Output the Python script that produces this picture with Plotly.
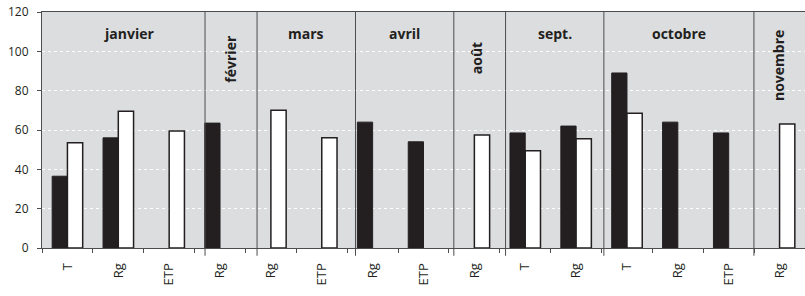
import plotly.graph_objects as go

# ---- data ----
months = ["janvier", "février", "mars", "avril", "août", "sept.", "octobre", "novembre"]
month_vars = [["T", "Rg", "ETP"], ["Rg"], ["Rg", "ETP"], ["Rg", "ETP"], ["Rg"],
              ["T", "Rg"], ["T", "Rg", "ETP"], ["Rg"]]
tick_labels = [v for vs in month_vars for v in vs]
black_vals = [36.5, 56, None, 63.5, None, None, 64, 54, None, 58.5, 62, 89, 64, 58.5, None]
white_vals = [53.5, 69.5, 59.5, None, 70, 56, None, None, 57.5, 49.5, 55.5, 68.5, None, None, 63]
y_ticks = [0, 20, 40, 60, 80, 100, 120]

# ---- style ----
BLACK = "#231f20"
BG = "#dcdddf"
LINE = "#4d4d4d"
TXT = "#231f20"
FONT = "Open Sans"

n = len(tick_labels)
xs = list(range(n))

fig = go.Figure()
fig.add_trace(go.Bar(x=xs, y=black_vals, marker=dict(color=BLACK, line=dict(color=BLACK, width=1)),
                     showlegend=False, hoverinfo="skip"))
fig.add_trace(go.Bar(x=xs, y=white_vals, marker=dict(color="white", line=dict(color=BLACK, width=1.5)),
                     showlegend=False, hoverinfo="skip"))

# month separators (hand-placed in the original, slightly offset from category boundaries)
sep_offsets = [0.205, 0.228, 0.163, 0.096, 0.113, 0.046, -0.004]
bounds = []
acc = 0
for vs in month_vars[:-1]:
    acc += len(vs)
    bounds.append(acc - 0.5)
seps = [b + o for b, o in zip(bounds, sep_offsets)]
for s in seps:
    fig.add_shape(type="line", xref="x", yref="paper", x0=s, x1=s, y0=-0.033, y1=1,
                  line=dict(color=LINE, width=1))

# month labels
edges = [-0.3] + seps + [n - 0.5]
vertical = {"février": 96.3, "août": 96.3, "novembre": 93.0}
vert_shift = {"février": 0, "août": -0.06, "novembre": -0.03}
for i, m in enumerate(months):
    cx = (edges[i] + edges[i + 1]) / 2
    if m in vertical:
        fig.add_annotation(x=cx + vert_shift[m], y=vertical[m], text="<b>%s</b>" % m, showarrow=False,
                           textangle=-90, font=dict(family=FONT, size=14, color=TXT),
                           xanchor="center", yanchor="middle")
    else:
        fig.add_annotation(x=cx, y=109.2, text="<b>%s</b>" % m, showarrow=False,
                           font=dict(family=FONT, size=14, color=TXT),
                           xanchor="center", yanchor="middle")

fig.update_layout(
    width=805, height=296,
    margin=dict(l=42, r=0, t=12, b=48, autoexpand=False),
    plot_bgcolor=BG, paper_bgcolor="white",
    barmode="group", bargap=0.4, bargroupgap=0,
    font=dict(family=FONT, size=12, color=TXT),
    hovermode=False,
)
fig.update_xaxes(
    range=[-0.5, n - 0.5], tickmode="array", tickvals=xs, ticktext=tick_labels,
    tickangle=-90, ticks="", showgrid=False, zeroline=False, automargin=False,
    showline=True, linecolor=LINE, linewidth=1, mirror=True, ticklabelstandoff=9,
    tickfont=dict(family=FONT, size=13, color=TXT),
    minor=dict(tickmode="array", tickvals=[i - 0.5 for i in range(n + 1)], ticks="outside",
               ticklen=4, tickcolor=LINE, showgrid=False),
)
fig.update_yaxes(
    range=[0, 120], tickmode="array", tickvals=y_ticks, ticks="outside", ticklen=4,
    tickcolor=LINE, showline=True, linecolor=LINE, linewidth=1, automargin=False,
    showgrid=True, gridcolor="white", griddash="dot", gridwidth=1, zeroline=False,
    ticklabelstandoff=6, tickfont=dict(family=FONT, size=12, color=TXT),
)

fig.write_html("out.html", config={"displayModeBar": False},
               post_script="document.body.style.margin='0';document.body.style.overflow='hidden';")
